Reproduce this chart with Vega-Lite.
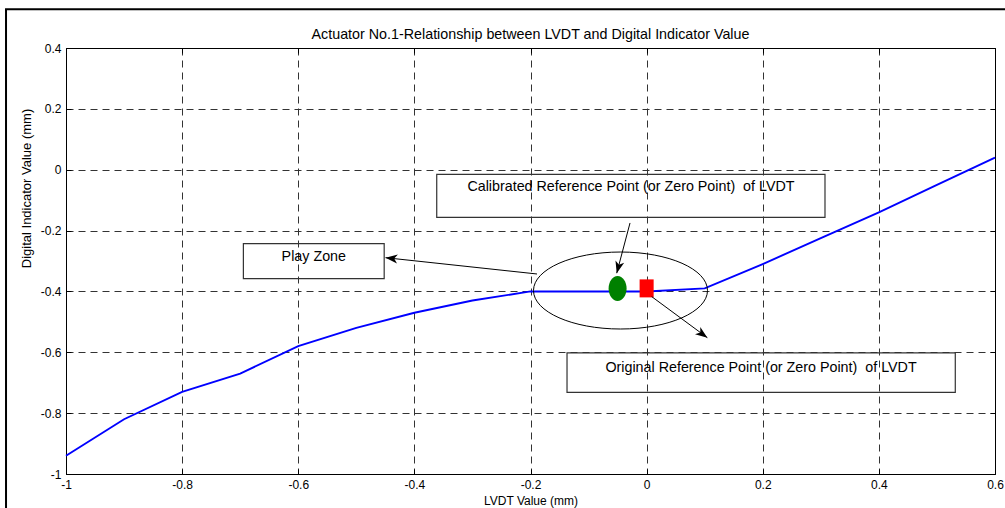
{
  "$schema": "https://vega.github.io/schema/vega-lite/v6.json",
  "width": 929,
  "height": 426,
  "autosize": "none",
  "padding": {"left": 66, "top": 48, "right": 10, "bottom": 34},
  "background": "white",
  "title": {
    "text": "Actuator No.1-Relationship between LVDT and Digital Indicator Value",
    "font": "Liberation Sans",
    "fontSize": 14.3,
    "fontWeight": "normal",
    "color": "black",
    "anchor": "middle",
    "baseline": "bottom",
    "offset": -48.5
  },
  "config": {
    "font": "Liberation Sans",
    "view": {"stroke": null},
    "title": {"color": "black"},
    "axis": {
      "labelFont": "Liberation Sans",
      "labelFontSize": 12,
      "labelColor": "black",
      "titleFont": "Liberation Sans",
      "titleFontSize": 12,
      "titleFontWeight": "normal",
      "titleColor": "black",
      "domainColor": "black",
      "domainWidth": 1,
      "tickColor": "black",
      "tickWidth": 1,
      "tickSize": -5,
      "labelPadding": 10,
      "labelFlush": false,
      "labelOverlap": false,
      "gridColor": "#333333",
      "gridDash": [7, 5],
      "gridWidth": 1,
      "gridOpacity": 1
    }
  },
  "datasets": {
    "series": [
      {"lvdt": -1.0, "indicator": -0.94},
      {"lvdt": -0.9, "indicator": -0.82},
      {"lvdt": -0.8, "indicator": -0.73},
      {"lvdt": -0.7, "indicator": -0.67},
      {"lvdt": -0.6, "indicator": -0.58},
      {"lvdt": -0.5, "indicator": -0.52},
      {"lvdt": -0.4, "indicator": -0.47},
      {"lvdt": -0.3, "indicator": -0.43},
      {"lvdt": -0.2, "indicator": -0.40},
      {"lvdt": -0.1, "indicator": -0.40},
      {"lvdt": 0.0, "indicator": -0.40},
      {"lvdt": 0.1, "indicator": -0.39},
      {"lvdt": 0.2, "indicator": -0.31},
      {"lvdt": 0.3, "indicator": -0.225},
      {"lvdt": 0.4, "indicator": -0.14},
      {"lvdt": 0.5, "indicator": -0.05},
      {"lvdt": 0.6, "indicator": 0.04}
    ],
    "frame": [
      {"left": -1.1033, "right": 0.8, "top": 0.5272, "bottom": -1.3}
    ],
    "zone": [
      {"lvdt": -0.045, "indicator": -0.397}
    ],
    "calibrated": [
      {"lvdt": -0.05, "indicator": -0.39}
    ],
    "original": [
      {"lvdt": 0.0, "indicator": -0.39}
    ],
    "notes": [
      {"label": "Calibrated Reference Point (or Zero Point)\u00a0 of LVDT", "x0": -0.3615, "x1": 0.3072, "y0": -0.015, "y1": -0.1564, "tx": -0.027, "ty": -0.058},
      {"label": "Play Zone", "x0": -0.6945, "x1": -0.452, "y0": -0.2431, "y1": -0.3582, "tx": -0.5732, "ty": -0.2858},
      {"label": "Original Reference Point (or Zero Point)\u00a0 of LVDT", "x0": -0.1371, "x1": 0.5316, "y0": -0.602, "y1": -0.7315, "tx": 0.197, "ty": -0.6526}
    ],
    "arrows": [
      {"name": "play", "x": -0.1888, "y": -0.3427, "x2": -0.4497, "y2": -0.2891},
      {"name": "calibrated", "x": -0.0286, "y": -0.175, "x2": -0.0515, "y2": -0.34},
      {"name": "original", "x": 0.0087, "y": -0.417, "x2": 0.1046, "y2": -0.552}
    ]
  },
  "layer": [
    {
      "data": {"name": "frame"},
      "mark": {"type": "rect", "filled": false, "stroke": "black", "strokeWidth": 2},
      "encoding": {
        "x": {"field": "left", "type": "quantitative", "scale": {"domain": [-1, 0.6], "nice": false, "zero": false}, "axis": null},
        "x2": {"field": "right"},
        "y": {"field": "top", "type": "quantitative", "scale": {"domain": [-1, 0.4], "nice": false, "zero": false}, "axis": null},
        "y2": {"field": "bottom"}
      }
    },
    {
      "data": {"name": "series"},
      "mark": {"type": "line", "color": "#0000FF", "strokeWidth": 1.9},
      "encoding": {
        "x": {
          "field": "lvdt", "type": "quantitative",
          "scale": {"domain": [-1, 0.6], "nice": false, "zero": false},
          "axis": {
            "orient": "bottom", "title": "LVDT Value (mm)", "grid": true,
            "values": [-1, -0.8, -0.6, -0.4, -0.2, 0, 0.2, 0.4, 0.6],
            "labelExpr": "'' + datum.value", "titlePadding": 5
          }
        },
        "y": {
          "field": "indicator", "type": "quantitative",
          "scale": {"domain": [-1, 0.4], "nice": false, "zero": false},
          "axis": {
            "orient": "left", "title": "Digital Indicator Value (mm)", "grid": true,
            "values": [-1, -0.8, -0.6, -0.4, -0.2, 0, 0.2, 0.4],
            "labelExpr": "'' + datum.value", "titlePadding": 7, "titleFontSize": 13,
            "titleY": 140
          }
        }
      }
    },
    {
      "data": {"name": "series"},
      "mark": {"type": "point", "opacity": 0},
      "encoding": {
        "x": {
          "field": "lvdt", "type": "quantitative",
          "scale": {"domain": [-1, 0.6], "nice": false, "zero": false},
          "axis": {"orient": "top", "title": null, "labels": false, "grid": false,
                   "values": [-1, -0.8, -0.6, -0.4, -0.2, 0, 0.2, 0.4, 0.6]}
        },
        "y": {
          "field": "indicator", "type": "quantitative",
          "scale": {"domain": [-1, 0.4], "nice": false, "zero": false},
          "axis": {"orient": "right", "title": null, "labels": false, "grid": false,
                   "values": [-1, -0.8, -0.6, -0.4, -0.2, 0, 0.2, 0.4]}
        }
      }
    },
    {
      "data": {"name": "notes"},
      "mark": {"type": "rect", "filled": false, "stroke": "#333333", "strokeWidth": 1.2},
      "encoding": {
        "x": {"field": "x0", "type": "quantitative", "scale": {"domain": [-1, 0.6], "nice": false, "zero": false}, "axis": null},
        "x2": {"field": "x1"},
        "y": {"field": "y0", "type": "quantitative", "scale": {"domain": [-1, 0.4], "nice": false, "zero": false}, "axis": null},
        "y2": {"field": "y1"}
      }
    },
    {
      "data": {"name": "notes"},
      "mark": {"type": "text", "font": "Liberation Sans", "fontSize": 14.3, "color": "black", "align": "center", "baseline": "middle"},
      "encoding": {
        "x": {"field": "tx", "type": "quantitative", "scale": {"domain": [-1, 0.6], "nice": false, "zero": false}, "axis": null},
        "y": {"field": "ty", "type": "quantitative", "scale": {"domain": [-1, 0.4], "nice": false, "zero": false}, "axis": null},
        "text": {"field": "label"}
      }
    },
    {
      "data": {"name": "zone"},
      "mark": {
        "type": "point", "filled": false, "color": "black", "strokeWidth": 1, "opacity": 1, "size": 30276,
        "shape": "M1,0C1,0.2444 0.5523,0.4425 0,0.4425C-0.5523,0.4425 -1,0.2444 -1,0C-1,-0.2444 -0.5523,-0.4425 0,-0.4425C0.5523,-0.4425 1,-0.2444 1,0Z"
      },
      "encoding": {
        "x": {"field": "lvdt", "type": "quantitative", "scale": {"domain": [-1, 0.6], "nice": false, "zero": false}, "axis": null},
        "y": {"field": "indicator", "type": "quantitative", "scale": {"domain": [-1, 0.4], "nice": false, "zero": false}, "axis": null}
      }
    },
    {
      "data": {"name": "calibrated"},
      "mark": {
        "type": "point", "filled": true, "color": "#008000", "opacity": 1, "size": 625,
        "shape": "M0.72,0C0.72,0.5523 0.3977,1 0,1C-0.3977,1 -0.72,0.5523 -0.72,0C-0.72,-0.5523 -0.3977,-1 0,-1C0.3977,-1 0.72,-0.5523 0.72,0Z"
      },
      "encoding": {
        "x": {"field": "lvdt", "type": "quantitative", "scale": {"domain": [-1, 0.6], "nice": false, "zero": false}, "axis": null},
        "y": {"field": "indicator", "type": "quantitative", "scale": {"domain": [-1, 0.4], "nice": false, "zero": false}, "axis": null}
      }
    },
    {
      "data": {"name": "original"},
      "mark": {
        "type": "point", "filled": true, "color": "#FF0000", "opacity": 1, "size": 324,
        "shape": "M-0.78,-1H0.78V1H-0.78Z"
      },
      "encoding": {
        "x": {"field": "lvdt", "type": "quantitative", "scale": {"domain": [-1, 0.6], "nice": false, "zero": false}, "axis": null},
        "y": {"field": "indicator", "type": "quantitative", "scale": {"domain": [-1, 0.4], "nice": false, "zero": false}, "axis": null}
      }
    },
    {
      "data": {"name": "arrows"},
      "mark": {"type": "rule", "color": "black", "strokeWidth": 1},
      "encoding": {
        "x": {"field": "x", "type": "quantitative", "scale": {"domain": [-1, 0.6], "nice": false, "zero": false}, "axis": null},
        "y": {"field": "y", "type": "quantitative", "scale": {"domain": [-1, 0.4], "nice": false, "zero": false}, "axis": null},
        "x2": {"field": "x2"},
        "y2": {"field": "y2"}
      }
    },
    {
      "data": {"name": "arrows"},
      "transform": [{"filter": "datum.name === 'play'"}],
      "mark": {"type": "point", "filled": true, "color": "black", "opacity": 1, "size": 144, "angle": 276,
               "shape": "M0,0L0.75,2L0,1.45L-0.75,2Z"},
      "encoding": {
        "x": {"field": "x2", "type": "quantitative", "scale": {"domain": [-1, 0.6], "nice": false, "zero": false}, "axis": null},
        "y": {"field": "y2", "type": "quantitative", "scale": {"domain": [-1, 0.4], "nice": false, "zero": false}, "axis": null}
      }
    },
    {
      "data": {"name": "arrows"},
      "transform": [{"filter": "datum.name === 'calibrated'"}],
      "mark": {"type": "point", "filled": true, "color": "black", "opacity": 1, "size": 144, "angle": 195,
               "shape": "M0,0L0.75,2L0,1.45L-0.75,2Z"},
      "encoding": {
        "x": {"field": "x2", "type": "quantitative", "scale": {"domain": [-1, 0.6], "nice": false, "zero": false}, "axis": null},
        "y": {"field": "y2", "type": "quantitative", "scale": {"domain": [-1, 0.4], "nice": false, "zero": false}, "axis": null}
      }
    },
    {
      "data": {"name": "arrows"},
      "transform": [{"filter": "datum.name === 'original'"}],
      "mark": {"type": "point", "filled": true, "color": "black", "opacity": 1, "size": 144, "angle": 126,
               "shape": "M0,0L0.75,2L0,1.45L-0.75,2Z"},
      "encoding": {
        "x": {"field": "x2", "type": "quantitative", "scale": {"domain": [-1, 0.6], "nice": false, "zero": false}, "axis": null},
        "y": {"field": "y2", "type": "quantitative", "scale": {"domain": [-1, 0.4], "nice": false, "zero": false}, "axis": null}
      }
    }
  ],
  "resolve": {"axis": {"x": "independent", "y": "independent"}}
}
